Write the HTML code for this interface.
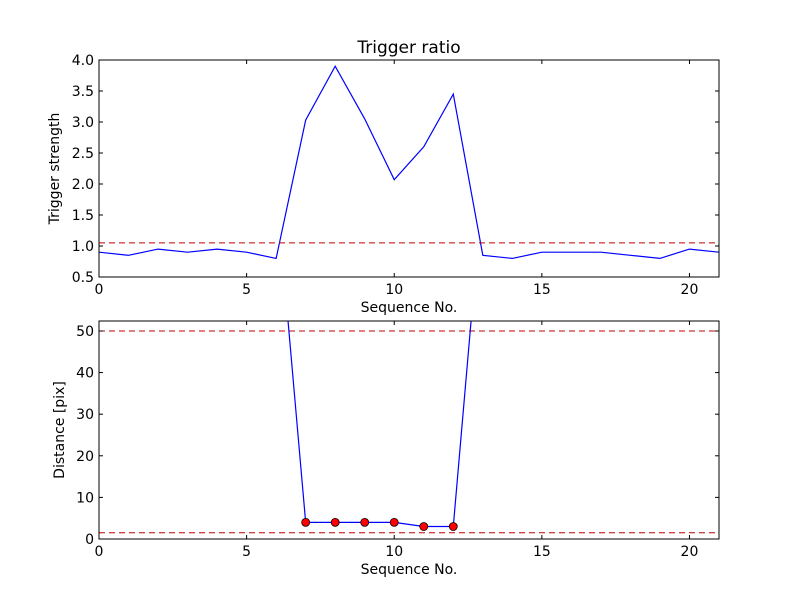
<!DOCTYPE html>
<html><head><meta charset="utf-8"><style>body{margin:0;background:#fff}svg text{font-family:"DejaVu Sans","Liberation Sans",sans-serif}</style></head>
<body>
<svg id="c" width="800" height="600" xmlns="http://www.w3.org/2000/svg"></svg>
<script>
const seq=[0,1,2,3,4,5,6,7,8,9,10,11,12,13,14,15,16,17,18,19,20,21];
const strength=[0.9,0.85,0.95,0.9,0.95,0.9,0.8,3.03,3.9,3.05,2.07,2.6,3.45,0.85,0.8,0.9,0.9,0.9,0.85,0.8,0.95,0.9];
const strengthThreshold=1.05;
const distSeq=[6,7,8,9,10,11,12,13];
const distance=[85,4,4,4,4,3,3,85];
const markSeq=[7,8,9,10,11,12];
const markDist=[4,4,4,4,3,3];
const distThresholds=[50,1.5];
const xTicks=[0,5,10,15,20];
const topYTicks=["0.5","1.0","1.5","2.0","2.5","3.0","3.5","4.0"];
const botYTicks=[0,10,20,30,40,50];
const svg=document.getElementById('c');const NS='http://www.w3.org/2000/svg';
function el(t,a,p){const e=document.createElementNS(NS,t);for(const k in a)e.setAttribute(k,a[k]);(p||svg).appendChild(e);return e;}
function panel(name,top,bot,y0,y1,yt,ylabel,title){
 const L=99,R=719;const X=v=>L+(v-0)/21*(R-L);const Y=v=>bot-(v-y0)/(y1-y0)*(bot-top);
 const g=el('g',{});
 const cid='clip'+name;const cp=el('clipPath',{id:cid},g);el('rect',{x:L,y:top,width:R-L,height:bot-top},cp);
 const plot=el('g',{'clip-path':'url(#'+cid+')'},g);
 return {g,plot,X,Y,L,R,top,bot,finish(){
  const f=el('rect',{x:L,y:top,width:R-L,height:bot-top,fill:'none',stroke:'#000','stroke-width':1},g);
  xTicks.forEach(v=>{const x=X(v);el('line',{x1:x,x2:x,y1:bot,y2:bot-4,stroke:'#000'},g);el('line',{x1:x,x2:x,y1:top,y2:top+4,stroke:'#000'},g);
   const t=el('text',{x:x,y:bot+17,'font-size':14,'text-anchor':'middle'},g);t.textContent=v;});
  yt.forEach(s=>{const y=Y(parseFloat(s));el('line',{x1:L,x2:L+4,y1:y,y2:y,stroke:'#000'},g);el('line',{x1:R,x2:R-4,y1:y,y2:y,stroke:'#000'},g);
   const t=el('text',{x:L-5,y:y+5,'font-size':14,'text-anchor':'end'},g);t.textContent=s;});
  const xl=el('text',{x:(L+R)/2,y:bot+35,'font-size':14,'text-anchor':'middle'},g);xl.textContent='Sequence No.';
  const cy=(top+bot)/2;const yl=el('text',{x:0,y:0,'font-size':14,'text-anchor':'middle',transform:`translate(${ylabel[1]},${cy}) rotate(-90)`},g);yl.textContent=ylabel[0];
  if(title){const tt=el('text',{x:(L+R)/2,y:top-7,'font-size':17,'text-anchor':'middle'},g);tt.textContent=title;}
 }};
}
const p1=panel('top-panel',60,277,0.5,4.0,topYTicks,['Trigger strength',59],'Trigger ratio');
let d=seq.map((s,i)=>(i?'L':'M')+p1.X(s)+','+p1.Y(strength[i])).join('');
let ln=el('path',{d,fill:'none',stroke:'#0000ff','stroke-width':1.2},p1.plot);
ln=el('line',{x1:p1.L,x2:p1.R,y1:p1.Y(strengthThreshold),y2:p1.Y(strengthThreshold),stroke:'#c00000','stroke-dasharray':'6,4'},p1.plot);
p1.finish();
const p2=panel('bottom-panel',321,539,0,52.4,botYTicks.map(String),['Distance [pix]',64],null);
distThresholds.forEach(v=>{const l=el('line',{x1:p2.L,x2:p2.R,y1:p2.Y(v),y2:p2.Y(v),stroke:'#c00000','stroke-dasharray':'6,4'},p2.plot);});
d=distSeq.map((s,i)=>(i?'L':'M')+p2.X(s)+','+p2.Y(distance[i])).join('');
ln=el('path',{d,fill:'none',stroke:'#0000ff','stroke-width':1.2},p2.plot);
markSeq.forEach((s,i)=>{const c=el('circle',{cx:p2.X(s),cy:p2.Y(markDist[i]),r:4,fill:'#ff0000',stroke:'#000','stroke-width':0.8},p2.g);});
p2.finish();
</script>
</body></html>
